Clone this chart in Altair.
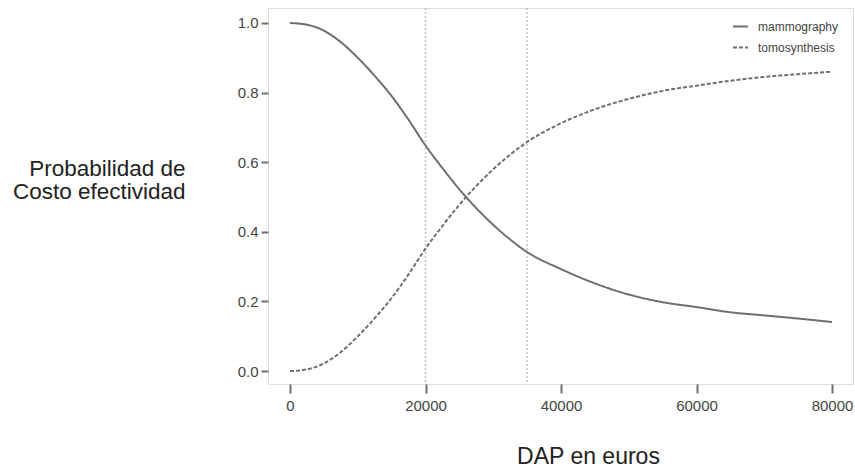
import altair as alt
import pandas as pd

# Willingness to pay (euros)
wtp = [0, 2500, 5000, 7500, 10000, 12500, 15000, 17500, 20000, 22500, 25000,
       27500, 30000, 32500, 35000, 40000, 45000, 50000, 55000, 60000, 65000,
       70000, 75000, 80000]
mammography = [1.000, 0.995, 0.978, 0.945, 0.900, 0.848, 0.790, 0.722, 0.648,
               0.583, 0.522, 0.468, 0.420, 0.378, 0.342, 0.293, 0.252, 0.220,
               0.198, 0.184, 0.169, 0.160, 0.151, 0.141]
tomosynthesis = [0.000, 0.005, 0.022, 0.055, 0.100, 0.152, 0.210, 0.278, 0.352,
                 0.417, 0.478, 0.532, 0.580, 0.622, 0.658, 0.712, 0.752, 0.782,
                 0.805, 0.820, 0.834, 0.845, 0.853, 0.860]
series_names = ["mammography", "tomosynthesis"]
thresholds = [20000, 35000]
x_ticks = [0, 20000, 40000, 60000, 80000]
y_ticks = [0.0, 0.2, 0.4, 0.6, 0.8, 1.0]

rows = []
for name, vals in zip(series_names, [mammography, tomosynthesis]):
    for x, v in zip(wtp, vals):
        rows.append({"wtp": x, "prob": v, "strategy": name})
df = pd.DataFrame(rows)
df_thr = pd.DataFrame({"wtp": thresholds})

TICK_FONT = "Liberation Sans"
GRAY = "#6f6f6f"

x_scale = alt.Scale(domain=[-3250, 83100], nice=False, zero=False)
y_scale = alt.Scale(domain=[-0.037, 1.043], nice=False, zero=False)

rules = alt.Chart(df_thr).mark_rule(
    color="#c4c4c4", strokeDash=[2, 2], strokeWidth=1.5
).encode(x=alt.X("wtp:Q", scale=x_scale))

lines = alt.Chart(df).mark_line(
    color=GRAY, strokeWidth=2, interpolate="monotone"
).encode(
    x=alt.X(
        "wtp:Q", scale=x_scale,
        axis=alt.Axis(
            values=x_ticks, format="d", grid=False, domain=False,
            tickSize=9, tickWidth=2, tickColor=GRAY,
            labelFont=TICK_FONT, labelFontSize=15, labelColor="#444",
            labelPadding=5,
            title="DAP en euros", titleFont="Liberation Sans",
            titleFontSize=23, titleFontWeight="normal", titleColor="#222",
            titleX=320, titleY=79, titleAlign="center",
            titleBaseline="alphabetic",
        ),
    ),
    y=alt.Y(
        "prob:Q", scale=y_scale,
        axis=alt.Axis(
            values=y_ticks, format=".1f", grid=False, domain=False,
            tickSize=7, tickWidth=2, tickColor=GRAY,
            labelFont=TICK_FONT, labelFontSize=15, labelColor="#444",
            labelPadding=3,
            title=["Probabilidad de", "Costo efectividad"],
            titleFont="Liberation Sans", titleFontSize=22.5,
            titleFontWeight="normal", titleColor="#222",
            titleAngle=0, titleAlign="right", titleBaseline="alphabetic",
            titleX=-83, titleY=167, titleLineHeight=23.5,
        ),
    ),
    strokeDash=alt.StrokeDash(
        "strategy:N",
        scale=alt.Scale(domain=series_names, range=[[1, 0], [4, 2]]),
        legend=alt.Legend(
            title=None, orient="none", legendX=464, legendY=10,
            symbolType="stroke", symbolSize=225, symbolStrokeWidth=2,
            symbolStrokeColor=GRAY, labelFont=TICK_FONT, labelFontSize=12,
            labelColor="#444", labelOffset=9, rowPadding=6, padding=0,
        ),
    ),
)

chart = (rules + lines).properties(
    width=585, height=376,
    autosize=alt.AutoSizeParams(type="none"),
    padding={"left": 268, "top": 8, "right": 2, "bottom": 85},
).configure_view(
    stroke=GRAY, strokeWidth=2
).configure(background="white")

chart.save("out.html", embed_options={"renderer": "svg", "actions": False})
